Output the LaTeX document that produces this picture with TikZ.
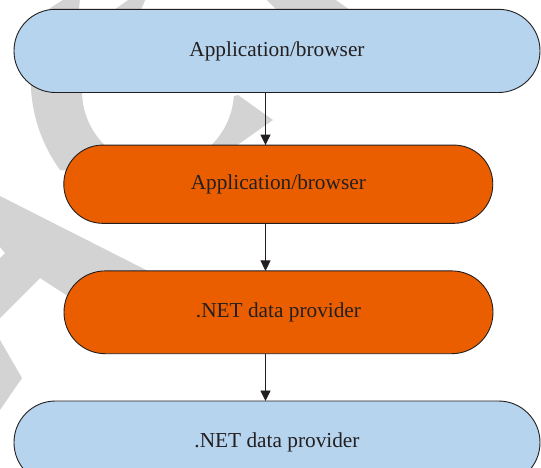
\documentclass[tikz,border=0pt]{standalone}
\usepackage{fontspec}
\setmainfont{Liberation Serif}
\usetikzlibrary{arrows.meta}
\definecolor{wm}{RGB}{211,211,211}
\definecolor{boxblue}{RGB}{182,212,237}
\definecolor{boxorange}{RGB}{235,94,0}
\definecolor{ink}{RGB}{35,31,32}
\begin{document}
\begin{tikzpicture}[x=1pt,y=1pt,
  pill/.style={draw=ink, line width=0.9pt, inner sep=0pt, outer sep=0pt, text=ink,
    font=\fontsize{21.3}{25}\selectfont},
  flow/.style={draw=ink, line width=0.9pt, -{Triangle[width=10pt,length=10.5pt]}}]
\useasboundingbox (0,0) rectangle (541,-467);
\clip (0,0) rectangle (541,-467);
\fill[white] (0,0) rectangle (541,-467);
% watermark pieces
\fill[wm] (80,2) -- (66,2) -- ([shift={(153:153.8)}]184.5,-79.6)
  arc[start angle=153, end angle=216, radius=153.8]
  -- (150,-178) -- (233,-178) -- (233,-148) -- (273,-120) -- (238,-95)
  -- ([shift={(-3.8:76)}]158,-91) arc[start angle=-3.8, end angle=-215, radius=76]
  -- (79,-9) -- cycle;
\fill[wm] (114,-10) -- (131,2) -- (146,2) -- (141,-10) -- cycle;
\fill[wm] (265,2) -- (277,-10) -- (350,-10) -- (333,2) -- cycle;
\fill[wm] (0,-196) -- (150,-272) -- (100,-317) -- (40,-278) -- (0,-318)
  -- (0,-258) -- (5,-253) -- (0,-247) -- cycle;
\fill[wm] (0,-340) -- (22,-378) -- (0,-410) -- cycle;
% boxes
\node[pill, fill=boxblue, minimum width=526pt, minimum height=83.2pt, rounded corners=41.5pt] (b1) at (277,-50.9) {Application/browser};
\node[pill, fill=boxorange, minimum width=429pt, minimum height=78.3pt, rounded corners=39pt] (b2) at (278.3,-184.2) {Application/browser};
\node[pill, fill=boxorange, minimum width=429pt, minimum height=82.8pt, rounded corners=41.3pt] (b3) at (278.5,-312.3) {.NET data provider};
\node[pill, fill=boxblue, minimum width=526pt, minimum height=83pt, rounded corners=41.4pt] (b4) at (277,-442.5) {.NET data provider};
% connectors
\coordinate (ax) at (265.5,0);
\draw[flow] (b1.south -| ax) -- (b2.north -| ax);
\draw[flow] (b2.south -| ax) -- (b3.north -| ax);
\draw[flow] (b3.south -| ax) -- (b4.north -| ax);
\end{tikzpicture}
\end{document}
